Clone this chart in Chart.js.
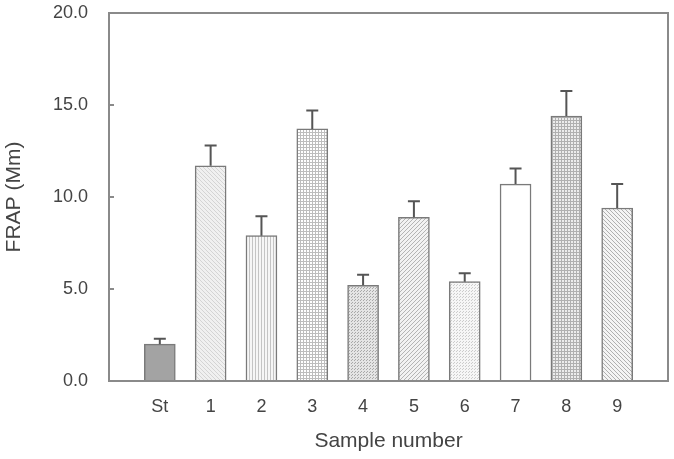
<!DOCTYPE html>
<html>
<head>
<meta charset="utf-8">
<script src="https://cdn.jsdelivr.net/npm/chart.js@4"></script>
<style>
  body { margin: 0; background: #fff; }
</style>
</head>
<body>
<canvas id="chart" width="674" height="459"></canvas>
<script>
let categories = ["St", "1", "2", "3", "4", "5", "6", "7", "8", "9"];
let frap = [2.0, 11.7, 7.9, 13.7, 5.2, 8.9, 5.4, 10.7, 14.4, 9.4];
let frapErr = [0.3, 1.1, 1.05, 1.0, 0.58, 0.87, 0.45, 0.85, 1.36, 1.3];
let yTicks = [0, 5, 10, 15, 20];

// little canvas tiles for the hatch fills
function tile(size, bg, draw) {
  let c = document.createElement("canvas");
  c.width = size;
  c.height = size;
  let g = c.getContext("2d");
  g.fillStyle = bg;
  g.fillRect(0, 0, size, size);
  draw(g, size);
  return document.getElementById("chart").getContext("2d").createPattern(c, "repeat");
}

function diag(bg, col, back) {
  return tile(4, bg, function (g, s) {
    g.fillStyle = col;
    for (let i = 0; i < s; i++) {
      g.fillRect(back ? i : s - 1 - i, i, 1, 1);
    }
  });
}

function vlines(bg, col) {
  return tile(3, bg, function (g) {
    g.fillStyle = col;
    g.fillRect(0, 0, 1, 3);
  });
}

function grid(bg, col, s) {
  return tile(s, bg, function (g) {
    g.fillStyle = col;
    g.fillRect(0, 0, s, 1);
    g.fillRect(0, 0, 1, s);
  });
}

function dots(bg, col) {
  return tile(3, bg, function (g) {
    g.fillStyle = col;
    g.fillRect(0, 0, 1, 1);
    g.fillRect(1, 2, 1, 1);
  });
}

let fills = [
  "#a3a3a3",
  diag("#f0f0f0", "#d4d4d4", true),
  vlines("#f6f6f6", "#c4c4c4"),
  grid("#ffffff", "#bdbdbd", 3),
  dots("#e4e4e4", "#a8a8a8"),
  diag("#f2f2f2", "#b4b4b4", false),
  dots("#f6f6f6", "#cccccc"),
  "#ffffff",
  grid("#ececec", "#b0b0b0", 3),
  diag("#f4f4f4", "#b0b0b0", true)
];

let points = [];
for (let i = 0; i < frap.length; i++) {
  points.push({ x: i, y: frap[i] });
}

// frame round the plot + upward error bars
let extras = {
  id: "extras",
  afterDatasetsDraw: function (chart) {
    let ctx = chart.ctx;
    let xs = chart.scales.x;
    let ys = chart.scales.y;
    ctx.save();
    ctx.strokeStyle = "#555";
    ctx.lineWidth = 2;
    for (let i = 0; i < frap.length; i++) {
      let px = xs.getPixelForValue(i);
      let y0 = ys.getPixelForValue(frap[i]);
      let y1 = ys.getPixelForValue(frap[i] + frapErr[i]);
      ctx.beginPath();
      ctx.moveTo(px, y0);
      ctx.lineTo(px, y1);
      ctx.moveTo(px - 6, y1);
      ctx.lineTo(px + 6, y1);
      ctx.stroke();
    }
    let a = chart.chartArea;
    ctx.strokeStyle = "#8a8a8a";
    ctx.lineWidth = 2;
    ctx.strokeRect(a.left, a.top, a.right - a.left, a.bottom - a.top);
    ctx.restore();
  }
};

new Chart(document.getElementById("chart"), {
  type: "bar",
  data: {
    datasets: [{
      data: points,
      backgroundColor: fills,
      borderColor: "#7a7a7a",
      borderWidth: 1.5,
      barThickness: 31
    }]
  },
  options: {
    responsive: false,
    animation: false,
    layout: { padding: { top: 13, right: 6, left: 0, bottom: 0 } },
    plugins: { legend: { display: false }, tooltip: { enabled: false } },
    scales: {
      x: {
        type: "linear",
        min: -1,
        max: 10,
        offset: false,
        afterBuildTicks: function (s) {
          s.ticks = [];
          for (let i = 0; i < categories.length; i++) s.ticks.push({ value: i });
        },
        afterFit: function (s) {
          s.height = 78;
          s.paddingLeft = 0;
          s.paddingRight = 0;
        },
        grid: { display: false },
        border: { display: false },
        ticks: {
          autoSkip: false,
          maxRotation: 0,
          padding: 7,
          color: "#444",
          font: { family: "Liberation Sans", size: 18 },
          callback: function (v) { return categories[v]; }
        },
        title: {
          display: true,
          text: "Sample number",
          color: "#444",
          padding: { top: 0, bottom: 5 },
          font: { family: "Liberation Sans", size: 21 }
        }
      },
      y: {
        min: 0,
        max: 20,
        afterBuildTicks: function (s) {
          s.ticks = yTicks.map(function (v) { return { value: v }; });
        },
        afterFit: function (s) {
          s.width = 109;
          s.paddingTop = 0;
          s.paddingBottom = 0;
        },
        grid: { drawOnChartArea: false, tickLength: -5, color: "#8a8a8a", lineWidth: 2 },
        border: { display: false },
        ticks: {
          padding: 26,
          color: "#444",
          font: { family: "Liberation Sans", size: 18 },
          callback: function (v) { return v.toFixed(1); }
        },
        title: {
          display: true,
          text: "FRAP (Mm)",
          color: "#444",
          padding: { top: 2, bottom: 0 },
          font: { family: "Liberation Sans", size: 21 }
        }
      }
    }
  },
  plugins: [extras]
});
</script>
</body>
</html>
